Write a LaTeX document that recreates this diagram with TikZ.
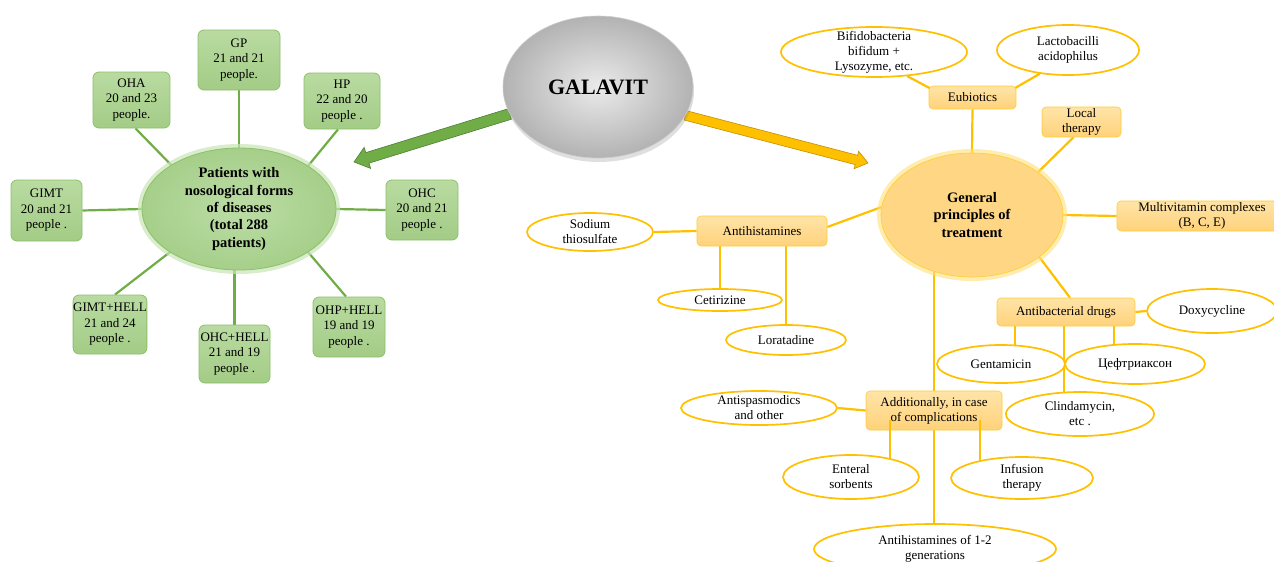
\documentclass[tikz,border=0pt]{standalone}
\usepackage{fontspec}
\setmainfont{Liberation Serif}
\usetikzlibrary{shapes.geometric,calc,shadows}
\pgfdeclarelayer{background}
\pgfsetlayers{background,main}
\definecolor{glin}{HTML}{70AD47}
\definecolor{gbord}{HTML}{8CC06A}
\definecolor{gtop}{HTML}{B9DBA1}
\definecolor{gbot}{HTML}{A3CC86}
\definecolor{gell}{HTML}{A6CF8A}
\definecolor{gellin}{HTML}{BCDDA6}
\definecolor{gglow}{HTML}{C9E4B6}
\definecolor{ylin}{HTML}{FFC000}
\definecolor{otop}{HTML}{FFE4A8}
\definecolor{obot}{HTML}{FFD27A}
\definecolor{oell}{HTML}{FFD684}
\definecolor{oglow}{HTML}{FFE27A}
\definecolor{garrow}{HTML}{70AD47}
\definecolor{garrowb}{HTML}{507E32}
\definecolor{yarrowb}{HTML}{C09000}
\tikzset{
  gbox/.style={rectangle, rounded corners=6pt, draw=gbord, line width=0.8pt,
    top color=gtop, bottom color=gbot, align=center, inner sep=0pt,
    font=\fontsize{13}{15.5}\selectfont},
  obox/.style={rectangle, rounded corners=4pt, draw=ylin!80, line width=0.6pt,
    top color=otop, bottom color=obot, align=center, inner sep=0pt,
    font=\fontsize{13}{15}\selectfont},
  wel/.style={ellipse, draw=ylin, line width=1.7pt, fill=white, align=center,
    inner sep=-4pt, font=\fontsize{13}{15}\selectfont},
  glink/.style={draw=glin, line width=2.2pt},
  ylink/.style={draw=ylin, line width=2.2pt},
}
\begin{document}
\begin{tikzpicture}[x=1pt,y=-1pt]
\useasboundingbox (0,0) rectangle (1274,562);

% ---------- left cluster ----------
\node[ellipse, minimum width=194pt, minimum height=122pt, inner sep=0pt,
  draw=gbord, line width=0.8pt, inner color=gellin, outer color=gell,
  preaction={draw=gglow, line width=8pt, opacity=0.7},
  align=center, font=\bfseries\fontsize{14.5}{17.3}\selectfont]
  (pat) at (239,209) {Patients with\\nosological forms\\of diseases\\(total 288\\patients)};

\node[gbox, minimum width=82pt, minimum height=60pt] (gp) at (239,60) {GP\\21 and 21\\people.};
\node[gbox, minimum width=77pt, minimum height=56pt] (oha) at (131.5,100) {OHA\\20 and 23\\people.};
\node[gbox, minimum width=76pt, minimum height=56pt] (hp) at (342,101) {HP\\22 and 20\\people .};
\node[gbox, minimum width=71pt, minimum height=61pt] (gimt) at (46.5,210.5) {GIMT\\20 and 21\\people .};
\node[gbox, minimum width=72pt, minimum height=60pt] (ohc) at (422,210) {OHC\\20 and 21\\people .};
\node[gbox, minimum width=72pt, minimum height=59pt] (gh) at (110,324.5) {GIMT+HELL\\21 and 24\\people .};
\node[gbox, minimum width=71pt, minimum height=58pt] (ohch) at (234.5,354) {OHC+HELL\\21 and 19\\people .};
\node[gbox, minimum width=72pt, minimum height=60pt] (ohph) at (349,327) {OHP+HELL\\19 and 19\\people .};

% ---------- GALAVIT ----------
\node[ellipse, minimum width=190pt, minimum height=142pt, inner sep=0pt,
  draw=black!20, line width=0.6pt, inner color=black!8, outer color=black!30,
  drop shadow={opacity=0.25, shadow xshift=1pt, shadow yshift=-4pt},
  font=\bfseries\fontsize{22}{26}\selectfont] (gal) at (598,87) {GALAVIT};

% ---------- right cluster ----------
\node[ellipse, minimum width=182pt, minimum height=124pt, inner sep=0pt,
  draw=ylin!80, line width=0.6pt, fill=oell,
  preaction={draw=oglow, line width=8pt, opacity=0.6},
  align=center, font=\bfseries\fontsize{14.5}{17.3}\selectfont]
  (gen) at (972,215) {General\\principles of\\treatment};

\node[obox, minimum width=87pt, minimum height=23pt] (eub) at (972.5,97.5) {Eubiotics};
\node[obox, minimum width=79pt, minimum height=30pt] (loc) at (1081.5,122) {Local\\therapy};
\node[obox, minimum width=170pt, minimum height=30pt] (mv) at (1202,216) {Multivitamin complexes\\(B, C, E)};
\node[obox, minimum width=138pt, minimum height=28pt] (ab) at (1066,312) {Antibacterial drugs};
\node[obox, minimum width=130pt, minimum height=30pt] (ah) at (762,231) {Antihistamines};
\node[obox, minimum width=136pt, minimum height=39pt] (add) at (934,410.5) {Additionally, in case\\of complications};

\coordinate (entc) at (851,477);
\coordinate (infc) at (1022,478);
\draw[ylink] ([shift={(-44pt,10pt)}]add.south) -- ([xshift=-44pt]add.south |- entc);
\draw[ylink] ([shift={(46pt,10pt)}]add.south) -- ([xshift=46pt]add.south |- infc);

\node[wel, minimum width=186pt, minimum height=50pt] (bif) at (874,52) {Bifidobacteria\\bifidum +\\Lysozyme, etc.};
\node[wel, minimum width=142pt, minimum height=50pt] (lac) at (1068,50) {Lactobacilli\\acidophilus};
\node[wel, minimum width=126pt, minimum height=38pt] (sod) at (590,232) {Sodium\\thiosulfate};
\node[wel, minimum width=124pt, minimum height=22pt] (ceti) at (720,300) {Cetirizine};
\node[wel, minimum width=120pt, minimum height=30pt] (lora) at (786,340) {Loratadine};
\node[wel, minimum width=130pt, minimum height=44pt] (doxy) at (1212,311) {Doxycycline};
\node[wel, minimum width=128pt, minimum height=38pt] (gent) at (1001,364) {Gentamicin};
\node[wel, minimum width=140pt, minimum height=40pt] (ceft) at (1135,364) {Цефтриаксон};
\node[wel, minimum width=148pt, minimum height=44pt] (clin) at (1080,414) {Clindamycin,\\etc .};
\node[wel, minimum width=156pt, minimum height=34pt] (anti) at (759,408) {Antispasmodics\\and other};
\node[wel, minimum width=136pt, minimum height=44pt] (ent) at (entc) {Enteral\\sorbents};
\node[wel, minimum width=142pt, minimum height=42pt] (inf) at (infc) {Infusion\\therapy};
\node[wel, minimum width=242pt, minimum height=50pt] (ah12) at (935,549) {Antihistamines of 1-2\\generations};

% ---------- background: arrows and links ----------
\begin{pgfonlayer}{background}
\fill[white] (0,0) rectangle (1274,562);

\coordinate (gT) at (gal.197);
\coordinate (gP) at (354,162);
\coordinate (gB) at ($(gP)!14pt!(gT)$);
\filldraw[fill=garrow, draw=garrowb, line width=0.6pt, line join=miter]
  ($(gT)!5.5pt!90:(gP)$) -- ($(gB)!5.5pt!-90:(gT)$) -- ($(gB)!11pt!-90:(gT)$) -- (gP)
  -- ($(gB)!11pt!90:(gT)$) -- ($(gB)!5.5pt!90:(gT)$) -- ($(gT)!5.5pt!-90:(gP)$) -- cycle;

\coordinate (yT) at (gal.-18);
\coordinate (yP) at (868,163);
\coordinate (yB) at ($(yP)!12pt!(yT)$);
\filldraw[fill=ylin, draw=yarrowb, line width=0.6pt, line join=miter]
  ($(yT)!4.8pt!90:(yP)$) -- ($(yB)!4.8pt!-90:(yT)$) -- ($(yB)!9pt!-90:(yT)$) -- (yP)
  -- ($(yB)!9pt!90:(yT)$) -- ($(yB)!4.8pt!90:(yT)$) -- ($(yT)!4.8pt!-90:(yP)$) -- cycle;

\draw[glink] (gp.south) -- (pat.90);
\draw[glink] ([xshift=4pt]oha.south) -- (pat.147.5);
\draw[glink] ([xshift=-4pt]hp.south) -- (pat.32.5);
\draw[glink] (gimt.east) -- (pat.180);
\draw[glink] (ohc.west) -- (pat.0);
\draw[glink] ([xshift=5pt]gh.north) -- (pat.212);
\draw[glink] (ohch.north) -- (ohch.north |- pat.south);
\draw[glink] ([xshift=-3pt]ohph.north) -- (pat.-32);

\draw[ylink] (eub.south) -- (gen.north);
\draw[ylink] (bif.-36) -- ([shift={(4pt,-4pt)}]eub.north west);
\draw[ylink] (lac.220) -- ([shift={(-4pt,-4pt)}]eub.north east);
\draw[ylink] ([xshift=-8pt]loc.south) -- (gen.33);
\draw[ylink] (gen.east) -- (mv.west);
\draw[ylink] (gen.-32) -- ([xshift=4pt]ab.north);
\draw[ylink] ([yshift=4pt]ah.east) -- (gen.175);
\draw[ylink] (add.north) -- (add.north |- gen.center);
\draw[ylink] (sod.east) -- (ah.west);
\draw[ylink] (ah.south -| ceti.north) -- (ceti.center);
\draw[ylink] (ah.south -| lora.north) -- (lora.center);
\draw[ylink] (ab.east) -- (doxy.west);
\draw[ylink] ([xshift=-51pt]ab.south) -- ([xshift=-51pt]ab.south |- gent.center);
\draw[ylink] ([xshift=-2pt]ab.south) -- ([xshift=-2pt]ab.south |- clin.center);
\draw[ylink] ([xshift=48pt]ab.south) -- ([xshift=48pt]ab.south |- ceft.center);
\draw[ylink] (add.west) -- (anti.east);
\draw[ylink] (add.south) -- (add.south |- ah12.center);
\end{pgfonlayer}
\end{tikzpicture}
\end{document}
